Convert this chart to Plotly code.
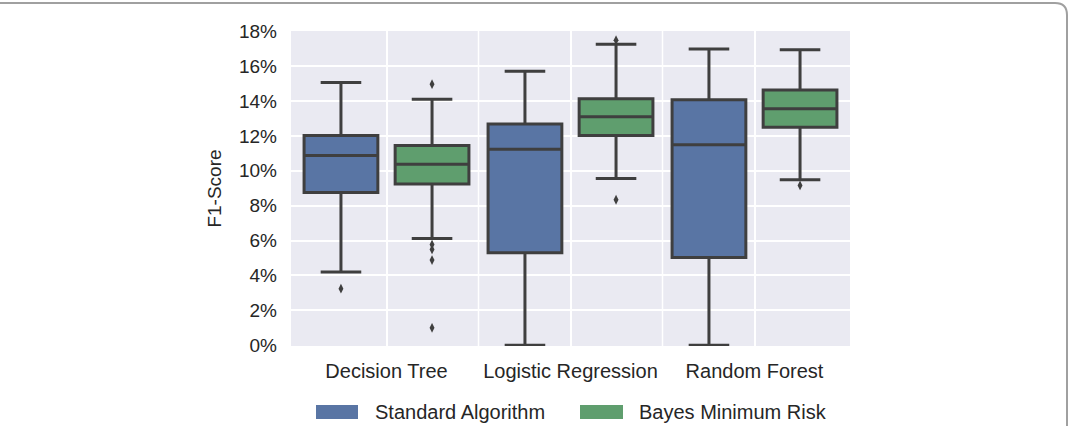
import plotly.graph_objects as go

categories = ["Decision Tree", "Logistic Regression", "Random Forest"]

std_q1 = [8.76, 5.30, 5.03]
std_median = [10.88, 11.24, 11.50]
std_q3 = [12.02, 12.69, 14.08]
std_low = [4.19, 0.0, 0.0]
std_high = [15.07, 15.71, 16.99]
std_outliers = [[3.24], [], []]

bmr_q1 = [9.24, 12.02, 12.50]
bmr_median = [10.38, 13.10, 13.56]
bmr_q3 = [11.45, 14.13, 14.63]
bmr_low = [6.11, 9.56, 9.49]
bmr_high = [14.10, 17.26, 16.95]
bmr_outliers = [[14.97, 5.77, 5.49, 4.88, 0.99], [17.49, 8.34], [9.16]]

series_names = ["Standard Algorithm", "Bayes Minimum Risk"]
y_ticks = [0, 2, 4, 6, 8, 10, 12, 14, 16, 18]

BLUE = "#5975a4"
GREEN = "#5f9e6e"
EDGE = "#3f3f3f"
TXT = "#262626"
FONT = "Liberation Sans, Arial, sans-serif"

W, H = 1071, 426
ML, MR, MT, MB = 291, 221, 31, 80
PW, PH = W - ML - MR, H - MT - MB


def px_x(p):
    return (p - ML) / PW


def px_y(p):
    return (H - MB - p) / PH


fig = go.Figure()
for name, q1, med, q3, lo, hi, outs, col in [
    (series_names[0], std_q1, std_median, std_q3, std_low, std_high, std_outliers, BLUE),
    (series_names[1], bmr_q1, bmr_median, bmr_q3, bmr_low, bmr_high, bmr_outliers, GREEN),
]:
    fig.add_trace(go.Box(
        name=name,
        x=categories,
        y=outs,
        q1=q1, median=med, q3=q3, lowerfence=lo, upperfence=hi,
        fillcolor=col,
        line=dict(color=EDGE, width=3),
        whiskerwidth=0.55,
        boxpoints="outliers",
        jitter=0, pointpos=0,
        marker=dict(symbol="diamond-tall", size=7, color=EDGE, line=dict(width=0)),
        showlegend=False,
    ))

shapes = []
# half-category vertical grid lines
for xb in [0.5, 1.5]:
    shapes.append(dict(type="line", xref="x", yref="paper", x0=xb, x1=xb, y0=0, y1=1,
                       line=dict(color="white", width=1.5), layer="below"))
# manual legend swatches
for x0, x1, col in [(316, 358, BLUE), (580, 623, GREEN)]:
    shapes.append(dict(type="rect", xref="paper", yref="paper",
                       x0=px_x(x0), x1=px_x(x1), y0=px_y(419), y1=px_y(405),
                       fillcolor=col, line=dict(width=0)))
# rounded frame
r = 12
top, right = 3, 1067
path = (f"M {px_x(-20)},{px_y(top)} L {px_x(right - r)},{px_y(top)} "
        f"Q {px_x(right)},{px_y(top)} {px_x(right)},{px_y(top + r)} "
        f"L {px_x(right)},{px_y(H + 20)}")
shapes.append(dict(type="path", xref="paper", yref="paper", path=path,
                   line=dict(color="#a0a0a0", width=2)))

annotations = []
for xp, txt in [(373, series_names[0]), (637, series_names[1])]:
    annotations.append(dict(xref="paper", yref="paper", x=px_x(xp), y=px_y(412),
                            text=txt, showarrow=False, xanchor="left", yanchor="middle",
                            font=dict(family=FONT, size=20, color=TXT)))

fig.update_layout(
    width=W, height=H,
    margin=dict(l=ML, r=MR, t=MT, b=MB, pad=0),
    paper_bgcolor="white",
    plot_bgcolor="#eaeaf2",
    boxmode="group",
    boxgap=0.01,
    boxgroupgap=0.19,
    showlegend=False,
    font=dict(family=FONT, size=19, color=TXT),
    shapes=shapes,
    annotations=annotations,
    xaxis=dict(
        type="category",
        showgrid=True, gridcolor="white", gridwidth=1.5,
        zeroline=False, showline=False,
        ticks="", ticklabelstandoff=11,
        tickfont=dict(size=20, color=TXT),
    ),
    yaxis=dict(
        range=[-0.05, 18.02],
        tickvals=y_ticks,
        ticktext=[f"{v}%" for v in y_ticks],
        showgrid=True, gridcolor="white", gridwidth=1.5,
        zeroline=False, showline=False,
        ticks="", ticklabelstandoff=13,
        tickfont=dict(size=19, color=TXT),
        title=dict(text="F1-Score", font=dict(size=19, color=TXT), standoff=12),
    ),
)

fig.write_html("out.html")
